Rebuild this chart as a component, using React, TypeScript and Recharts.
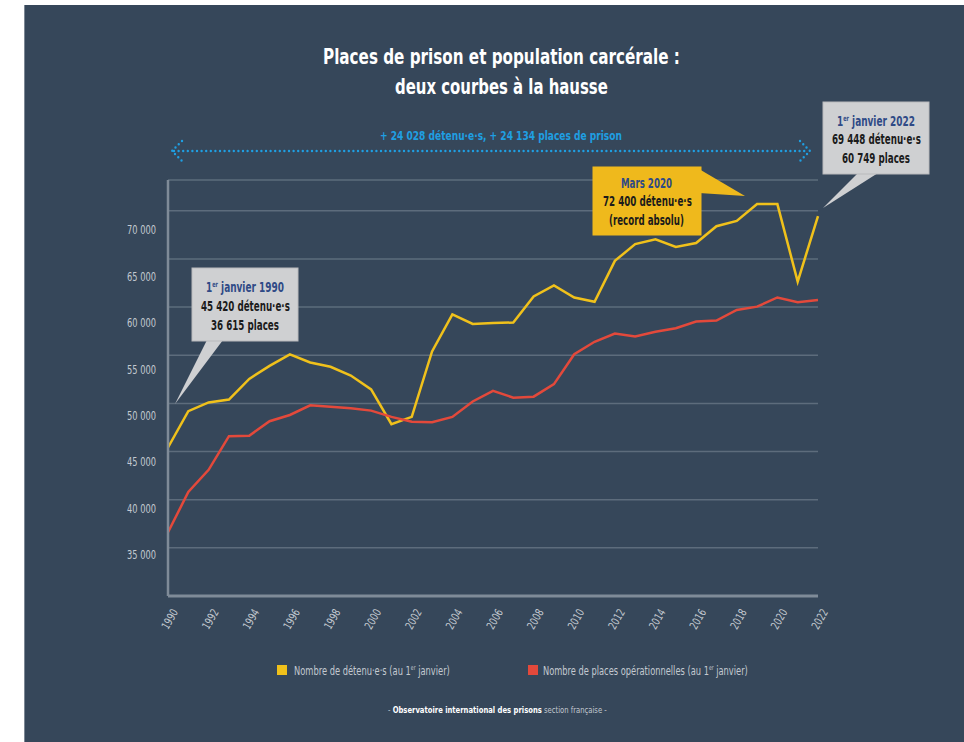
import React, { useLayoutEffect, useRef, useState } from 'react';
import { LineChart, Line, XAxis, YAxis, CartesianGrid } from 'recharts';

// Population carcérale et places opérationnelles au 1er janvier
const years = [
  1990, 1991, 1992, 1993, 1994, 1995, 1996, 1997, 1998, 1999, 2000,
  2001, 2002, 2003, 2004, 2005, 2006, 2007, 2008, 2009, 2010,
  2011, 2012, 2013, 2014, 2015, 2016, 2017, 2018, 2019, 2020,
  2021, 2022,
];
const detenus = [
  45420, 49200, 50100, 50400, 52550, 53900, 55100, 54250, 53800, 52900, 51450,
  47850, 48600, 55400, 59250, 58250, 58350, 58400, 61100, 62250, 61000,
  60550, 64800, 66550, 67050, 66250, 66650, 68400, 68950, 70700, 70700,
  62650, 69448,
];
const places = [
  36615, 40800, 43100, 46600, 46650, 48150, 48800, 49800, 49650, 49500, 49250,
  48600, 48100, 48050, 48600, 50200, 51300, 50600, 50700, 52000, 55100,
  56400, 57250, 56950, 57450, 57800, 58500, 58600, 59700, 60050, 61000,
  60500, 60749,
];
const yearTicks = [
  1990, 1992, 1994, 1996, 1998, 2000, 2002, 2004, 2006, 2008,
  2010, 2012, 2014, 2016, 2018, 2020, 2022,
];
const valueTicks = [30000, 35000, 40000, 45000, 50000, 55000, 60000, 65000, 70000];

const rows = years.map((year, i) => ({ year, detenus: detenus[i], places: places[i] }));

const FONT = '"DejaVu Sans Condensed", "Liberation Sans Narrow", "DejaVu Sans", sans-serif';
const BG = '#36475a';
const GRID = '#5d6c7c';
const AXIS = '#7f8b98';
const TICK = '#c3c9d0';
const YELLOW = '#f0c11b';
const RED = '#e3493b';
const BLUE = '#1f9fe2';
const NAVY = '#2f4a86';
const INK = '#1b1b1b';
const CALLOUT = '#cfd0d2';
const SQUEEZE = 'spacingAndGlyphs';

const fmt = (v: number) => `${Math.floor(v / 1000)} ${String(v % 1000).padStart(3, '0')}`;

const YTick = (props: any) => {
  const { x, y, payload } = props;
  if (payload.value === 30000) return <g />;
  // labels sit a little under their gridline, as in the original
  const dy = 8 + ((payload.value - 35000) / 5000) * 1.7;
  return (
    <text x={x} y={y + dy} textAnchor="end" dominantBaseline="middle" fill={TICK} fontSize={12}
      fontFamily={FONT} textLength={29} lengthAdjust={SQUEEZE}>
      {fmt(payload.value)}
    </text>
  );
};

const XTick = (props: any) => {
  const { x, y, payload } = props;
  const ax = x + 7;
  return (
    <text x={ax} y={y} dy="0.35em" transform={`rotate(-60 ${ax} ${y})`} textAnchor="end" fill={TICK}
      fontSize={11.5} fontFamily={FONT} textLength={21} lengthAdjust={SQUEEZE}>
      {payload.value}
    </text>
  );
};

// squeeze a text horizontally so it spans `len` pixels (the original uses a condensed face)
const T = ({ x, y, len, fill, children, size = 14 }: any) => {
  const ref = useRef<SVGTextElement>(null);
  const [k, setK] = useState(1);
  useLayoutEffect(() => {
    const w = ref.current ? ref.current.getComputedTextLength() : 0;
    if (w > 0) setK(len / w);
  }, [len]);
  return (
    <text ref={ref} transform={`translate(${x} ${y}) scale(${k} 1)`} fill={fill} fontSize={size}>
      {children}
    </text>
  );
};

const Er = ({ after }: { after: string }) => (
  <>
    <tspan fontSize="0.55em" dy={-5}>er</tspan>
    <tspan dy={5}>{after}</tspan>
  </>
);

const Callout = ({ x, y, w, h, fill, pointer, children }: any) => (
  <g>
    <polygon points={pointer} fill={fill} />
    <rect x={x} y={y} width={w} height={h} fill={fill} stroke={fill === CALLOUT ? '#b9babc' : fill} />
    <g fontWeight="bold">{children}</g>
  </g>
);

export default function App() {
  return (
    <div style={{ position: 'absolute', left: 0, top: 0, width: 964, height: 742, background: '#fff', overflow: 'hidden', fontFamily: FONT }}>
      <div style={{ position: 'absolute', left: 24, top: 5, right: 0, bottom: 0, background: BG, borderLeft: '1px solid #7c8794' }} />
      <div style={{ position: 'absolute', left: 0, top: 0 }}>
        <LineChart width={964} height={742} data={rows} margin={{ top: 180, right: 146, bottom: 96, left: 108 }}>
          <CartesianGrid vertical={false} stroke={GRID} strokeWidth={1.5} />
          <XAxis
            dataKey="year"
            type="number"
            domain={[1990, 2022]}
            ticks={yearTicks}
            height={50}
            tickSize={0}
            tickMargin={14}
            axisLine={{ stroke: AXIS, strokeWidth: 3 }}
            tickLine={false}
            tick={<XTick />}
            interval={0}
          />
          <YAxis
            type="number"
            domain={[30000, 73200]}
            ticks={valueTicks}
            allowDataOverflow
            width={60}
            tickSize={0}
            tickMargin={12}
            axisLine={{ stroke: AXIS, strokeWidth: 2.5 }}
            tickLine={false}
            tick={<YTick />}
            interval={0}
          />
          <Line type="linear" dataKey="detenus" stroke={YELLOW} strokeWidth={2.5} dot={false} isAnimationActive={false} />
          <Line type="linear" dataKey="places" stroke={RED} strokeWidth={2.5} dot={false} isAnimationActive={false} />
        </LineChart>
      </div>

      <svg width={964} height={742} style={{ position: 'absolute', left: 0, top: 0, pointerEvents: 'none' }} fontFamily={FONT}>
        <g fontWeight="bold">
          <T x={323} y={64} len={357} size={21} fill="#fff">Places de prison et population carcérale :</T>
          <T x={395} y={94} len={213} size={21} fill="#fff">deux courbes à la hausse</T>
          <T x={380} y={140} len={242} size={13} fill={BLUE}>+ 24 028 détenu·e·s, + 24 134 places de prison</T>
        </g>
        <g stroke={BLUE} strokeWidth={2.4} strokeLinecap="round" strokeDasharray="0 4.6" fill="none">
          <line x1={174} y1={151} x2={808} y2={151} />
          <polyline points="182,141 172,151 182,161" />
          <polyline points="800,141 810,151 800,161" />
        </g>

        <Callout x={192} y={268} w={106} h={73} fill={CALLOUT} pointer="207,340 223,340 175,404">
          <T x={206} y={292} len={78} fill={NAVY}>1<Er after=" janvier 1990" /></T>
          <T x={201} y={311} len={89} fill={INK}>45 420 détenu·e·s</T>
          <T x={211} y={330} len={68} fill={INK}>36 615 places</T>
        </Callout>
        <Callout x={593} y={167} w={108} h={68} fill="#efb91c" pointer="699,169 745,196 699,193">
          <T x={621} y={188} len={51} fill={NAVY}>Mars 2020</T>
          <T x={603} y={206} len={89} fill={INK}>72 400 détenu·e·s</T>
          <T x={609} y={225} len={75} fill={INK}>(record absolu)</T>
        </Callout>
        <Callout x={823} y={102} w={106} h={72} fill={CALLOUT} pointer="858,173 878,173 823,208">
          <T x={837} y={126} len={78} fill={NAVY}>1<Er after=" janvier 2022" /></T>
          <T x={832} y={144} len={89} fill={INK}>69 448 détenu·e·s</T>
          <T x={842} y={163} len={68} fill={INK}>60 749 places</T>
        </Callout>

        <rect x={277} y={665} width={10} height={10} fill={YELLOW} />
        <T x={294} y={675} len={156} size={12.5} fill={TICK}>
          Nombre de détenu·e·s (au 1<Er after=" janvier)" />
        </T>
        <rect x={528} y={665} width={10} height={10} fill={RED} />
        <T x={543} y={675} len={205} size={12.5} fill={TICK}>
          Nombre de places opérationnelles (au 1<Er after=" janvier)" />
        </T>

        <T x={388} y={713} len={219} size={9.5} fill={TICK}>
          - <tspan fill="#fff" fontWeight="bold">Observatoire international des prisons</tspan> section française -
        </T>
      </svg>
    </div>
  );
}
